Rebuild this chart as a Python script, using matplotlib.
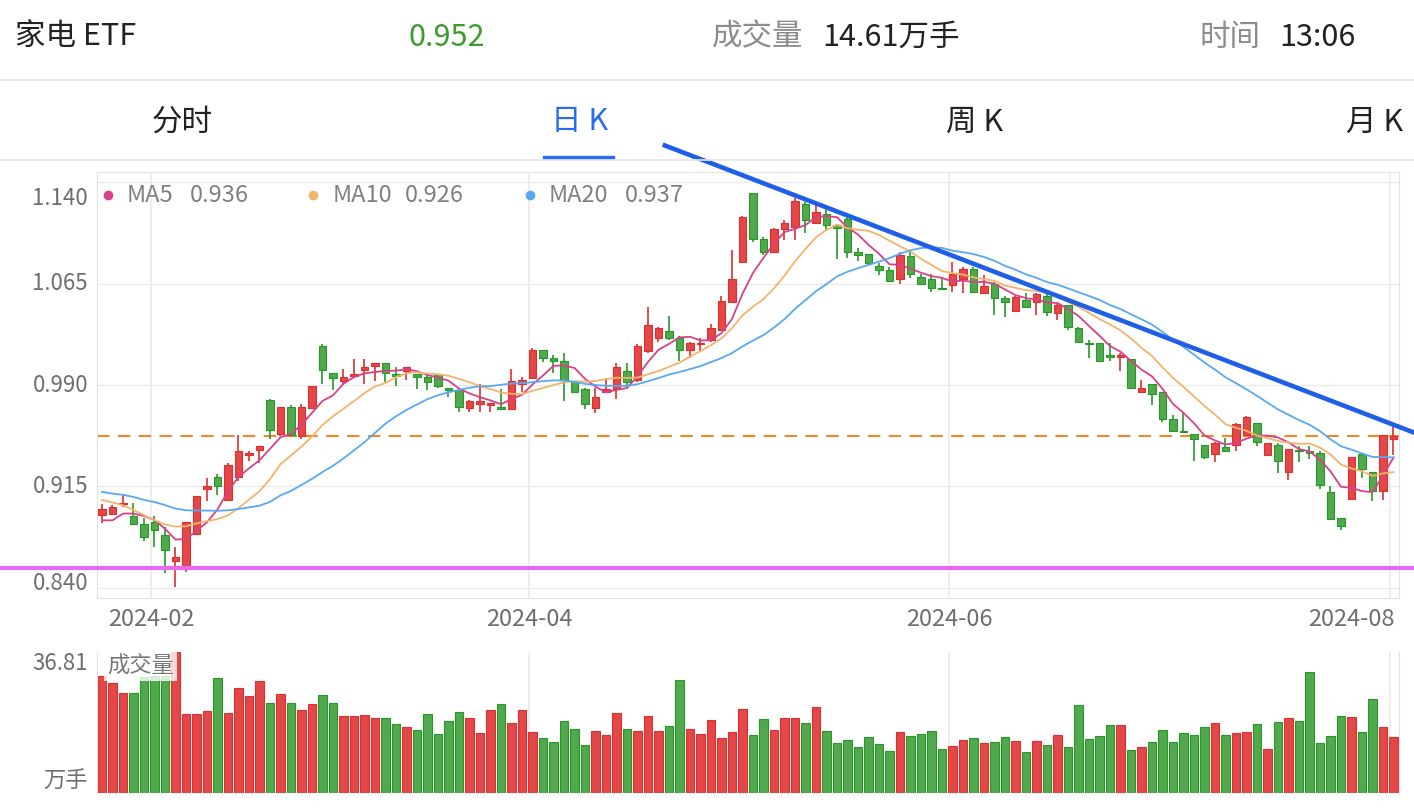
import numpy as np
import pandas as pd
import matplotlib
matplotlib.use('Agg')
import matplotlib.pyplot as plt
from matplotlib.lines import Line2D
from matplotlib.transforms import blended_transform_factory

plt.rcParams['font.family'] = ['Noto Sans CJK SC', 'DejaVu Sans']

# 家电ETF daily K, trading days 2024-01-25 .. 2024-08-01
open_ = [0.894, 0.895, 0.902, 0.893, 0.887, 0.889, 0.879, 0.860, 0.854, 0.880,
         0.913, 0.922, 0.905, 0.922, 0.938, 0.942, 0.979, 0.954, 0.974, 0.952,
         0.973, 1.019, 0.999, 0.993, 0.997, 1.001, 1.004, 1.006, 0.998, 1.000,
         0.998, 0.996, 0.998, 0.988, 0.986, 0.973, 0.976, 0.975, 0.974, 0.972,
         0.991, 0.995, 1.016, 1.010, 1.008, 0.992, 0.987, 0.973, 0.985, 0.987,
         1.000, 0.994, 1.015, 1.025, 1.030, 1.025, 1.016, 1.020, 1.023, 1.031,
         1.051, 1.081, 1.132, 1.098, 1.088, 1.105, 1.107, 1.124, 1.110, 1.116,
         1.108, 1.113, 1.088, 1.087, 1.078, 1.075, 1.068, 1.085, 1.070, 1.068,
         1.062, 1.064, 1.068, 1.076, 1.058, 1.065, 1.054, 1.045, 1.053, 1.051,
         1.056, 1.043, 1.049, 1.032, 1.021, 1.021, 1.012, 1.011, 1.009, 0.985,
         0.991, 0.985, 0.965, 0.956, 0.954, 0.946, 0.939, 0.944, 0.946, 0.953,
         0.962, 0.938, 0.946, 0.926, 0.942, 0.941, 0.940, 0.911, 0.892, 0.906,
         0.939, 0.926, 0.912, 0.950]
high = [0.902, 0.901, 0.909, 0.903, 0.892, 0.893, 0.885, 0.870, 0.889, 0.908,
        0.921, 0.924, 0.932, 0.953, 0.941, 0.945, 0.980, 0.974, 0.975, 0.976,
        0.989, 1.020, 0.999, 1.002, 1.009, 1.009, 1.006, 1.006, 1.003, 1.003,
        0.998, 0.998, 0.998, 0.988, 0.987, 0.979, 0.991, 0.977, 0.987, 1.002,
        0.996, 1.017, 1.016, 1.012, 1.014, 0.992, 0.988, 0.988, 0.995, 1.006,
        1.006, 1.020, 1.048, 1.033, 1.041, 1.026, 1.022, 1.025, 1.035, 1.056,
        1.090, 1.115, 1.132, 1.099, 1.106, 1.112, 1.128, 1.125, 1.123, 1.120,
        1.108, 1.115, 1.091, 1.087, 1.080, 1.077, 1.088, 1.088, 1.072, 1.072,
        1.069, 1.081, 1.077, 1.077, 1.071, 1.066, 1.056, 1.056, 1.058, 1.058,
        1.057, 1.050, 1.049, 1.033, 1.023, 1.021, 1.021, 1.014, 1.009, 0.994,
        0.991, 0.985, 0.968, 0.969, 0.954, 0.946, 0.948, 0.951, 0.962, 0.967,
        0.962, 0.947, 0.947, 0.943, 0.945, 0.945, 0.941, 0.915, 0.892, 0.937,
        0.939, 0.926, 0.953, 0.961]
low = [0.888, 0.894, 0.900, 0.887, 0.875, 0.870, 0.851, 0.841, 0.852, 0.879,
       0.904, 0.909, 0.905, 0.919, 0.934, 0.932, 0.950, 0.952, 0.952, 0.950,
       0.972, 0.991, 0.986, 0.991, 0.996, 0.991, 0.993, 0.992, 0.989, 0.994,
       0.987, 0.986, 0.988, 0.981, 0.970, 0.970, 0.970, 0.970, 0.972, 0.972,
       0.985, 0.995, 1.007, 0.999, 0.978, 0.984, 0.972, 0.969, 0.985, 0.980,
       0.989, 0.992, 1.014, 1.022, 1.023, 1.008, 1.010, 1.015, 1.022, 1.030,
       1.051, 1.080, 1.096, 1.086, 1.088, 1.097, 1.097, 1.102, 1.109, 1.104,
       1.083, 1.084, 1.082, 1.079, 1.071, 1.067, 1.065, 1.069, 1.065, 1.059,
       1.061, 1.059, 1.058, 1.059, 1.058, 1.042, 1.040, 1.045, 1.047, 1.042,
       1.041, 1.038, 1.031, 1.021, 1.010, 1.008, 1.008, 1.000, 0.987, 0.985,
       0.975, 0.963, 0.955, 0.955, 0.934, 0.935, 0.933, 0.941, 0.941, 0.952,
       0.945, 0.938, 0.925, 0.920, 0.933, 0.935, 0.913, 0.890, 0.883, 0.906,
       0.921, 0.904, 0.905, 0.938]
close = [0.898, 0.900, 0.903, 0.887, 0.878, 0.883, 0.868, 0.863, 0.889, 0.908,
         0.915, 0.915, 0.931, 0.941, 0.940, 0.945, 0.957, 0.974, 0.953, 0.974,
         0.989, 1.001, 0.995, 0.996, 0.998, 1.003, 1.006, 0.999, 0.997, 1.003,
         0.996, 0.992, 0.989, 0.986, 0.974, 0.978, 0.978, 0.977, 0.972, 0.993,
         0.994, 1.016, 1.010, 1.008, 0.994, 0.985, 0.976, 0.981, 0.987, 1.003,
         0.992, 1.019, 1.034, 1.032, 1.025, 1.016, 1.021, 1.021, 1.032, 1.052,
         1.068, 1.114, 1.098, 1.088, 1.105, 1.110, 1.126, 1.112, 1.118, 1.108,
         1.106, 1.088, 1.086, 1.080, 1.075, 1.067, 1.086, 1.072, 1.065, 1.062,
         1.061, 1.072, 1.076, 1.059, 1.063, 1.054, 1.051, 1.055, 1.048, 1.057,
         1.044, 1.049, 1.033, 1.022, 1.020, 1.008, 1.011, 1.012, 0.988, 0.988,
         0.983, 0.965, 0.956, 0.955, 0.950, 0.937, 0.947, 0.941, 0.961, 0.966,
         0.948, 0.947, 0.934, 0.943, 0.941, 0.940, 0.916, 0.891, 0.886, 0.937,
         0.928, 0.912, 0.953, 0.952]
# 成交量, 万手
volume = [30.5, 28.6, 26.0, 26.2, 30.3, 30.5, 30.5, 36.81, 20.6, 20.6,
          21.4, 30.1, 21.0, 27.3, 25.3, 29.3, 23.6, 25.8, 23.4, 21.7,
          23.2, 25.7, 23.4, 20.2, 20.0, 20.3, 19.5, 19.5, 18.0, 17.3,
          16.5, 20.6, 15.4, 18.8, 21.2, 19.5, 15.6, 21.7, 23.2, 18.4,
          21.6, 15.8, 14.3, 13.4, 18.9, 16.8, 12.6, 16.2, 15.1, 20.8,
          16.7, 16.2, 20.0, 16.1, 17.4, 29.5, 16.6, 15.3, 19.0, 14.3,
          15.8, 21.8, 15.1, 19.2, 16.5, 19.6, 19.5, 18.2, 22.4, 16.1,
          13.0, 13.8, 12.1, 14.6, 12.9, 11.0, 15.8, 14.8, 15.3, 16.1,
          11.4, 12.4, 13.9, 14.3, 13.0, 13.3, 14.6, 13.7, 10.8, 13.7,
          12.5, 15.2, 12.0, 23.0, 14.0, 14.8, 17.7, 17.7, 11.2, 12.1,
          13.2, 16.4, 13.4, 15.6, 15.2, 17.1, 18.3, 15.2, 15.6, 15.8,
          17.9, 11.5, 18.6, 19.5, 18.7, 31.6, 13.1, 14.9, 20.1, 19.9,
          16.0, 24.6, 17.3, 14.6]
# closes before the first visible day (only feed the moving averages)
prior_close = [0.925, 0.921, 0.918, 0.922, 0.915, 0.912, 0.916, 0.914, 0.910, 0.917,
               0.918, 0.924, 0.921, 0.917, 0.920, 0.900, 0.878, 0.887, 0.887]

month_idx = [5, 41, 81, 123]
month_lab = ['2024-02', '2024-04', '2024-06', '2024-08']
price_ticks = [1.140, 1.065, 0.990, 0.915, 0.840]

ma_names = ['MA5', 'MA10', 'MA20']
ma_periods = [5, 10, 20]
ma_last = ['0.936', '0.926', '0.937']
ma_colors = ['#d9408a', '#f2b46c', '#58a8f4']

last_price = 0.952
support = 0.855
trend_idx = [53.4, 125.0]
trend_price = [1.1676, 0.9547]

RED, RED_F = '#e02e2e', '#e24848'
GREEN, GREEN_F = '#24992a', '#52a84c'
GRID = '#ebebeb'
GRAY = '#808080'

W, H = 1414, 808
fig = plt.figure(figsize=(W / 100, H / 100), dpi=100)
fig.patch.set_facecolor('white')


def fx(x):
    return x / W


def fy(y):
    return 1 - y / H


# ---- header ----
fig.text(fx(15), fy(37), '家电 ETF', fontsize=22, color='#222222', va='center')
fig.text(fx(408), fy(37), '0.952', fontsize=22, color='#3f9a2d', va='center')
fig.text(fx(712), fy(37), '成交量', fontsize=22, color='#8c8c8c', va='center')
fig.text(fx(822), fy(37), '14.61万手', fontsize=22, color='#222222', va='center')
fig.text(fx(1199), fy(37), '时间', fontsize=22, color='#8c8c8c', va='center')
fig.text(fx(1279), fy(37), '13:06', fontsize=22, color='#222222', va='center')
for yy in (80, 160):
    fig.add_artist(Line2D([0, 1], [fy(yy), fy(yy)], color='#e6e6e6', lw=1.2))

tabs = ['分时', '日 K', '周 K', '月 K']
tab_x = [182, 580, 975, 1375]
for t, xx in zip(tabs, tab_x):
    c = '#2a6cf0' if t == '日 K' else '#222222'
    fig.text(fx(xx), fy(122), t, fontsize=22, color=c, ha='center', va='center')
fig.add_artist(Line2D([fx(544), fx(613)], [fy(157), fy(157)], color='#2a6cf0', lw=2.4))

# ---- price panel ----
n = len(close)
x = np.arange(n)
o = np.array(open_)
c = np.array(close)
up = c >= o
edge = np.where(up, RED, GREEN)
fill = np.where(up, RED_F, GREEN_F)

ax = fig.add_axes([fx(97), fy(598), (1399 - 97) / W, (598 - 172) / H])
xlim = (-0.476, 123.524)
ax.set_xlim(*xlim)
ax.set_ylim(0.8326, 1.1474)
ax.set_xticks([])
ax.set_yticks([])
for s in ax.spines.values():
    s.set_color('#e3e3e3')
for p in price_ticks:
    ax.axhline(p, color=GRID, lw=1, zorder=0)
for m in month_idx:
    ax.axvline(m - 0.33, color=GRID, lw=1.2, zorder=0)

ax.axhline(last_price, color='#f08a28', lw=1.5, dashes=(6, 4), zorder=1)

ax.vlines(x, low, high, colors=edge, lw=1.2, zorder=2)
ax.bar(x, np.maximum(np.abs(c - o), 0.0008), bottom=np.minimum(o, c), width=0.7,
       color=fill, edgecolor=edge, lw=0.8, zorder=3)

allc = pd.Series(prior_close + close)
for name, per, col in zip(ma_names, ma_periods, ma_colors):
    ma = allc.rolling(per).mean().values[len(prior_close):]
    ax.plot(x, ma, color=col, lw=1.3, zorder=4)

ax.axhline(support, xmin=-0.08, xmax=1.02, color='#e86af0', lw=3, clip_on=False, zorder=5)
ax.plot(trend_idx, trend_price, color='#1f5fe8', lw=3.3, solid_capstyle='butt',
        clip_on=False, zorder=6)

# price labels
tr_y = blended_transform_factory(fig.transFigure, ax.transData)
for k, p in enumerate(price_ticks):
    if k == 0:
        va, yv = 'top', p - 0.004
    elif k == len(price_ticks) - 1:
        va, yv = 'baseline', p - 0.0015
    else:
        va, yv = 'center', p
    ax.text(fx(88), yv, '%.3f' % p, transform=tr_y, ha='right', va=va,
            fontsize=16, color='#6e6e6e')

# date labels
tr_x = blended_transform_factory(ax.transData, fig.transFigure)
for k, (m, lab) in enumerate(zip(month_idx, month_lab)):
    if k == len(month_idx) - 1:
        ax.text(xlim[1] - 0.4, fy(620), lab, transform=tr_x, ha='right', va='center',
                fontsize=17, color='#6e6e6e')
    else:
        ax.text(m - 0.33, fy(620), lab, transform=tr_x, ha='center', va='center',
                fontsize=17, color='#6e6e6e')

# MA legend
leg_dot = [108, 313, 530]
leg_name = [127, 333, 549]
leg_val = [190, 405, 625]
for k in range(3):
    fig.add_artist(Line2D([fx(leg_dot[k])], [fy(195)], marker='o', ms=7, ls='',
                          color=ma_colors[k], markeredgewidth=0))
    fig.text(fx(leg_name[k]), fy(195), ma_names[k], fontsize=17, color=GRAY, va='center')
    fig.text(fx(leg_val[k]), fy(195), ma_last[k], fontsize=17, color=GRAY, va='center')

# ---- volume panel ----
axv = fig.add_axes([fx(97), fy(793), (1399 - 97) / W, (793 - 652) / H])
axv.set_xlim(*xlim)
axv.set_ylim(0, max(volume))
axv.set_xticks([])
axv.set_yticks([])
for side in ('top', 'bottom'):
    axv.spines[side].set_visible(False)
for side in ('left', 'right'):
    axv.spines[side].set_color('#e3e3e3')
for m in month_idx:
    axv.axvline(m - 0.33, color=GRID, lw=1.2, zorder=0)
axv.bar(x, volume, width=0.78, color=fill, edgecolor=edge, lw=0.8, zorder=2)
axv.text(0.008, 0.90, '成交量', transform=axv.transAxes, fontsize=16, color='#777777',
         va='center', ha='left', zorder=5,
         bbox=dict(boxstyle='square,pad=0.15', fc='white', ec='none', alpha=0.8))
fig.text(fx(88), fy(663), '%.2f' % max(volume), fontsize=16, color='#6e6e6e',
         ha='right', va='center')
fig.text(fx(88), fy(780), '万手', fontsize=16, color='#6e6e6e', ha='right', va='center')

fig.savefig('out.png', dpi=100, facecolor='white')
